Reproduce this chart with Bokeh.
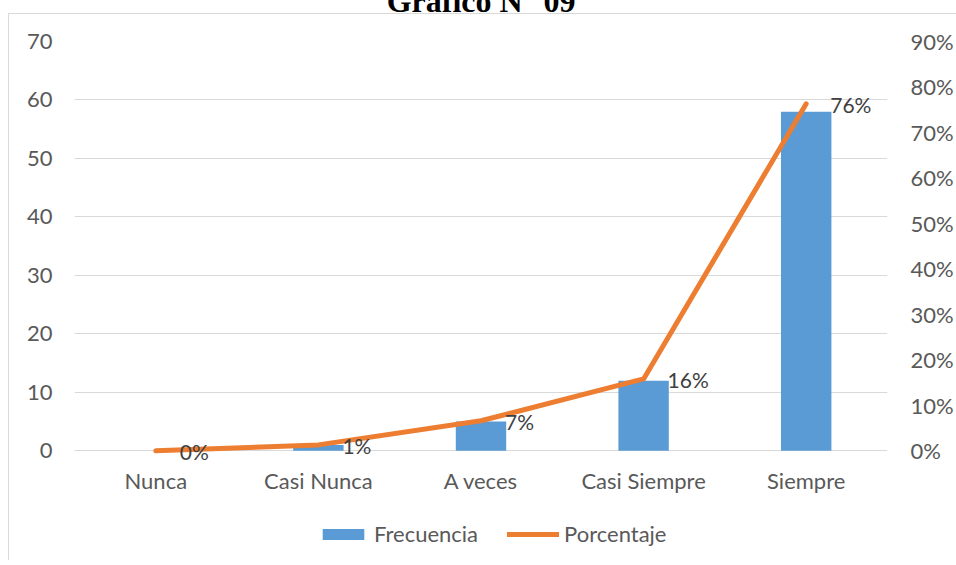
from bokeh.plotting import figure
from bokeh.layouts import column
from bokeh.models import (Range1d, LinearAxis, FixedTicker, PrintfTickFormatter,
                          Legend, LegendItem, ColumnDataSource, FactorRange)
from bokeh.core.properties import value
from bokeh.embed import file_html
from bokeh.resources import INLINE

categories = ["Nunca", "Casi Nunca", "A veces", "Casi Siempre", "Siempre"]
frecuencia = [0, 1, 5, 12, 58]
porcentaje = [0.0, 1.3, 6.6, 15.8, 76.3]
pct_labels = ["0%", "1%", "7%", "16%", "76%"]
left_ticks = [0, 10, 20, 30, 40, 50, 60, 70]
right_ticks = [0, 10, 20, 30, 40, 50, 60, 70, 80, 90]
series_names = ["Frecuencia", "Porcentaje"]
title_text = "Gráfico N° 09"

FONT = "Lato"
BLUE = "#5B9BD5"
ORANGE = "#ED7D31"
GRAY = "#595959"
SHIFT = 60  # whole chart shifted up so that the title is cut at the top, as in the original
LOW = -2    # a little room under the zero line so the "0%" label is not clipped

src = ColumnDataSource(dict(cat=categories, freq=frecuencia, pct=porcentaje, lab=pct_labels))

x_range = FactorRange(*categories, range_padding=0)
p = figure(width=956, height=505 + SHIFT, x_range=x_range,
           y_range=Range1d(LOW, 70), output_backend="svg", toolbar_location=None,
           title=title_text,
           min_border_left=74, min_border_right=68, min_border_top=41 + SHIFT,
           min_border_bottom=43)
p.extra_y_ranges = {"pct": Range1d(LOW * 90 / 70, 90)}
p.outline_line_color = None
p.background_fill_color = "white"
p.border_fill_color = None

p.title.text_font = "Liberation Serif"
p.title.text_font_style = "bold"
p.title.text_font_size = "32px"
p.title.text_color = "black"
p.title.align = "center"
p.title.vertical_align = "bottom"
p.title.standoff = 46

p.vbar(x="cat", top="freq", width=0.31, source=src, fill_color=BLUE, line_color=None)
p.line(x="cat", y="pct", source=src, y_range_name="pct", line_color=ORANGE,
       line_width=5, line_cap="round", line_join="round")
p.text(x="cat", y="pct", text="lab", source=src, y_range_name="pct", x_offset=24, y_offset=1,
       text_font=value(FONT), text_font_size="21px", text_color="#404040",
       text_baseline="middle", text_align="left")

# axes
p.xgrid.grid_line_color = None
p.ygrid.grid_line_color = "#D9D9D9"
p.ygrid.grid_line_width = 1
p.yaxis.ticker = FixedTicker(ticks=left_ticks)

right = LinearAxis(y_range_name="pct", ticker=FixedTicker(ticks=right_ticks),
                   formatter=PrintfTickFormatter(format="%d%%"))
p.add_layout(right, "right")

for ax in [p.xaxis[0], p.yaxis[0], right]:
    ax.axis_line_color = None
    ax.major_tick_line_color = None
    ax.minor_tick_line_color = None
    ax.major_tick_in = 0
    ax.major_tick_out = 0
    ax.minor_tick_out = 0
    ax.major_label_text_font = FONT
    ax.major_label_text_font_size = "22px"
    ax.major_label_text_color = GRAY
p.xaxis[0].major_label_standoff = 4
p.yaxis[0].major_label_standoff = 22
right.major_label_standoff = 23

# legend strip under the chart (its glyphs use the same data, drawn out of view)
lg = figure(width=956, height=55, output_backend="svg", toolbar_location=None,
            x_range=x_range, y_range=Range1d(100, 101),
            x_axis_type=None, y_axis_type=None,
            min_border_left=0, min_border_right=0, min_border_top=0, min_border_bottom=0)
lg.outline_line_color = None
lg.background_fill_color = None
lg.border_fill_color = None
lg.grid.visible = False
r_bar = lg.vbar(x="cat", top="freq", width=0.31, source=src, fill_color=BLUE, line_color=None)
r_line = lg.line(x="cat", y="pct", source=src, line_color=ORANGE, line_width=5, line_cap="round")

legend = Legend(items=[LegendItem(label=series_names[0], renderers=[r_bar]),
                       LegendItem(label=series_names[1], renderers=[r_line])],
                orientation="horizontal", location=(243, 13),
                glyph_width=52, glyph_height=14, label_standoff=5, spacing=29,
                padding=0, margin=0, border_line_color=None, background_fill_alpha=0,
                label_text_font=FONT, label_text_font_size="22px", label_text_color=GRAY)
lg.add_layout(legend, "center")

layout = column(p, lg, spacing=0)
layout.styles = {
    "margin-top": f"-{SHIFT}px",
    "background": (f"linear-gradient(#D9D9D9,#D9D9D9) 8px {13 + SHIFT}px / 1px 100% no-repeat, "
                   f"linear-gradient(#D9D9D9,#D9D9D9) 8px {13 + SHIFT}px / 100% 1px no-repeat, #ffffff"),
}

open("out.html", "w").write(file_html(layout, INLINE))
